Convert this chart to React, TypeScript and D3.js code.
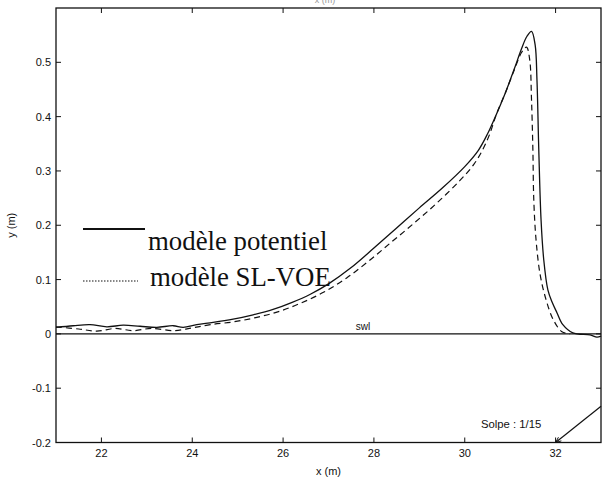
import React from "react";
import * as d3 from "d3";

const W = 603;
const H = 477;

const xTicks = [22, 24, 26, 28, 30, 32];
const yTicks = [-0.2, -0.1, 0, 0.1, 0.2, 0.3, 0.4, 0.5];
const yTickLabels = ["-0.2", "-0.1", "0", "0.1", "0.2", "0.3", "0.4", "0.5"];

const potentielX = [21.0, 21.38, 21.75, 22.12, 22.48, 22.85, 23.22, 23.58, 23.8, 24.1, 24.46, 24.9, 25.34, 25.78, 26.2, 26.6, 27.0, 27.5, 28.0, 28.5, 29.0, 29.5, 30.0, 30.3, 30.5, 30.7, 30.9, 31.1, 31.25, 31.37, 31.47, 31.55, 31.59, 31.63, 31.68, 31.74, 31.83, 31.92, 32.03, 32.16, 32.38, 32.76, 32.91, 33.0];
const potentielY = [0.012, 0.015, 0.017, 0.013, 0.016, 0.014, 0.012, 0.015, 0.012, 0.017, 0.021, 0.027, 0.035, 0.045, 0.058, 0.073, 0.092, 0.122, 0.158, 0.195, 0.232, 0.268, 0.308, 0.338, 0.368, 0.405, 0.445, 0.49, 0.525, 0.548, 0.557, 0.532, 0.468, 0.339, 0.21, 0.136, 0.081, 0.059, 0.039, 0.017, 0.002, -0.002, -0.006, -0.004];

const voeX = [21.0, 21.5, 21.9, 22.3, 22.7, 23.1, 23.6, 24.0, 24.4, 24.9, 25.4, 25.9, 26.4, 26.9, 27.4, 27.9, 28.4, 28.9, 29.4, 29.9, 30.2, 30.4, 30.55, 30.7, 30.9, 31.1, 31.25, 31.36, 31.43, 31.47, 31.5, 31.52, 31.57, 31.66, 31.79, 31.95, 32.14, 32.32];
const voeY = [0.013, 0.009, 0.005, 0.01, 0.006, 0.01, 0.006, 0.011, 0.017, 0.022, 0.03, 0.041, 0.057, 0.077, 0.103, 0.135, 0.17, 0.205, 0.242, 0.283, 0.312, 0.34, 0.368, 0.405, 0.445, 0.488, 0.518, 0.528, 0.505, 0.431, 0.339, 0.247, 0.173, 0.109, 0.063, 0.026, 0.004, 0.0];

const slopeX = [32, 33];
const slopeY = [-0.2, -0.2 + 1 / 15];

const legendLabels = ["modèle potentiel", "modèle SL-VOE"];

export default function App() {
  const x = d3.scaleLinear().domain([21, 33]).range([56, 601]);
  const y = d3.scaleLinear().domain([-0.2, 0.6]).range([442.5, 8]);
  const line = d3
    .line<[number, number]>()
    .x((d) => x(d[0]))
    .y((d) => y(d[1]))
    .curve(d3.curveCatmullRom.alpha(0.5));
  const pot: [number, number][] = potentielX.map((v, i) => [v, potentielY[i]]);
  const voe: [number, number][] = voeX.map((v, i) => [v, voeY[i]]);
  const [x0, x1] = x.range();
  const [yb, yt] = y.range();
  const sans = "'Liberation Sans', Arial, sans-serif";
  const serif = "'Liberation Serif', 'Times New Roman', serif";
  const sx0 = x(slopeX[0]);
  const sy0 = y(slopeY[0]);
  const sx1 = x(slopeX[1]);
  const sy1 = y(slopeY[1]);
  const ang = Math.atan2(sy1 - sy0, sx1 - sx0);
  const ah = 6;
  const arrow = `M${sx0},${sy0} L${sx0 + ah * Math.cos(ang - 0.4)},${sy0 + ah * Math.sin(ang - 0.4)} M${sx0},${sy0} L${sx0 + ah * Math.cos(ang + 0.4)},${sy0 + ah * Math.sin(ang + 0.4)}`;

  return (
    <svg
      width={W}
      height={H}
      style={{ position: "absolute", left: 0, top: 0, background: "#fff" }}
    >
      <rect x={0} y={0} width={W} height={H} fill="#fff" />
      <text x={325} y={3} fontFamily={sans} fontSize={9} fill="#999" textAnchor="middle">
        x (m)
      </text>
      <rect x={x0} y={yt} width={x1 - x0} height={yb - yt} fill="none" stroke="#111" strokeWidth={1.3} />
      {xTicks.map((t) => (
        <g key={"x" + t}>
          <line x1={x(t)} x2={x(t)} y1={yb} y2={yb - 5} stroke="#111" />
          <line x1={x(t)} x2={x(t)} y1={yt} y2={yt + 5} stroke="#111" />
          <text x={x(t)} y={yb + 14} fontFamily={sans} fontSize={11} textAnchor="middle" fill="#111">
            {t}
          </text>
        </g>
      ))}
      {yTicks.map((t, i) => (
        <g key={"y" + t}>
          <line x1={x0} x2={x0 + 5} y1={y(t)} y2={y(t)} stroke="#111" />
          <line x1={x1} x2={x1 - 5} y1={y(t)} y2={y(t)} stroke="#111" />
          <text x={x0 - 5} y={y(t) + 4} fontFamily={sans} fontSize={11} textAnchor="end" fill="#111">
            {yTickLabels[i]}
          </text>
        </g>
      ))}
      <text x={(x0 + x1) / 2} y={475} fontFamily={sans} fontSize={11} textAnchor="middle" fill="#111">
        x (m)
      </text>
      <text
        transform={`translate(15,${(yb + yt) / 2}) rotate(-90)`}
        fontFamily={sans}
        fontSize={11}
        textAnchor="middle"
        fill="#111"
      >
        y (m)
      </text>
      <line x1={x0} x2={x1} y1={y(0)} y2={y(0)} stroke="#111" strokeWidth={1.2} />
      <text x={363} y={y(0) - 4} fontFamily={sans} fontSize={10} textAnchor="middle" fill="#111">
        swl
      </text>
      <line x1={sx0} y1={sy0} x2={sx1} y2={sy1} stroke="#111" strokeWidth={1.2} />
      <path d={arrow} stroke="#111" fill="none" strokeWidth={1} />
      <text x={481} y={428} fontFamily={sans} fontSize={11.3} fill="#111">
        Solpe : 1/15
      </text>
      <path d={line(voe) || ""} fill="none" stroke="#111" strokeWidth={1.2} strokeDasharray="6,4" />
      <path d={line(pot) || ""} fill="none" stroke="#111" strokeWidth={1.3} />
      <line x1={83} x2={145} y1={229} y2={229} stroke="#111" strokeWidth={1.8} />
      <text x={148} y={250} fontFamily={serif} fontSize={26.8} fill="#111">
        {legendLabels[0]}
      </text>
      <line x1={83} x2={138} y1={281} y2={281} stroke="#111" strokeWidth={1.2} strokeDasharray="1.5,1.5" />
      <text x={150} y={286} fontFamily={serif} fontSize={26.8} fill="#111">
        {legendLabels[1]}
      </text>
    </svg>
  );
}
